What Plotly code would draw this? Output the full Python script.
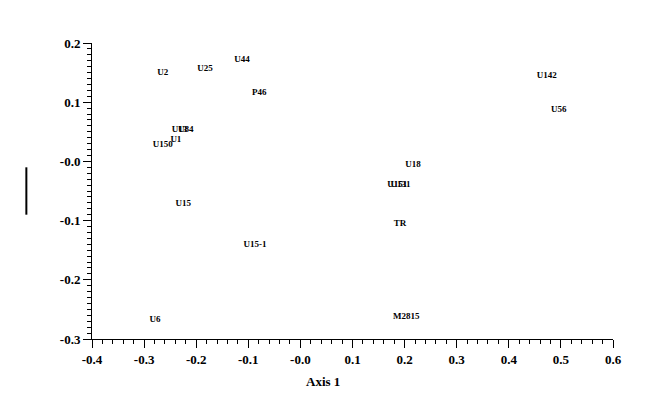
import plotly.graph_objects as go

labels = ["U2", "U25", "U44", "P46", "U13", "U84", "U1", "U150", "U15", "U15-1", "U6",
          "U142", "U56", "U18", "U151", "U131", "TR", "M2815"]
axis1 = [-0.264, -0.183, -0.112, -0.079, -0.232, -0.220, -0.239, -0.264, -0.225, -0.087, -0.279,
         0.473, 0.496, 0.216, 0.186, 0.192, 0.191, 0.203]
axis2 = [0.149, 0.156, 0.171, 0.116, 0.054, 0.054, 0.036, 0.028, -0.072, -0.141, -0.268,
         0.144, 0.087, -0.006, -0.039, -0.039, -0.106, -0.263]

x_ticks = [-0.4, -0.3, -0.2, -0.1, 0.0, 0.1, 0.2, 0.3, 0.4, 0.5, 0.6]
x_ticktext = ["-0.4", "-0.3", "-0.2", "-0.1", "-0.0", "0.1", "0.2", "0.3", "0.4", "0.5", "0.6"]
y_ticks = [-0.3, -0.2, -0.1, 0.0, 0.1, 0.2]
y_ticktext = ["-0.3", "-0.2", "-0.1", "-0.0", "0.1", "0.2"]

font_family = "Liberation Serif"

fig = go.Figure()
fig.add_trace(go.Scatter(
    x=axis1, y=axis2, mode="text", text=labels,
    textposition="middle center",
    textfont=dict(family=font_family, size=9, color="black"),
    texttemplate="<b>%{text}</b>",
    hoverinfo="skip", showlegend=False,
))

axis_common = dict(
    showgrid=False, zeroline=False, showline=True, linecolor="black", linewidth=1,
    ticks="outside", ticklen=8, tickwidth=1, tickcolor="black",
    tickfont=dict(family=font_family, size=13, color="black", weight="bold"),
    mirror=False,
)

fig.update_layout(
    width=656, height=405,
    margin=dict(l=84, r=51, t=35, b=74),
    paper_bgcolor="white", plot_bgcolor="white",
    xaxis=dict(range=[-0.4, 0.6], tickvals=x_ticks, ticktext=x_ticktext,
               minor=dict(dtick=0.02, ticklen=4, ticks="outside", tickcolor="black", tick0=0),
               **axis_common),
    yaxis=dict(range=[-0.3, 0.2], tickvals=y_ticks, ticktext=y_ticktext,
               minor=dict(dtick=0.01, ticklen=4, ticks="outside", tickcolor="black", tick0=0),
               **axis_common),
    annotations=[dict(text="<b>Axis 1</b>", xref="paper", yref="paper", x=0.443, y=-0.145,
                      xanchor="center", yanchor="middle", showarrow=False,
                      font=dict(family=font_family, size=13, color="black"))],
    shapes=[dict(type="line", xref="paper", yref="paper", x0=-0.126, x1=-0.126,
                 y0=0.42, y1=0.58, line=dict(color="black", width=2))],
)

fig.write_html("out.html")
